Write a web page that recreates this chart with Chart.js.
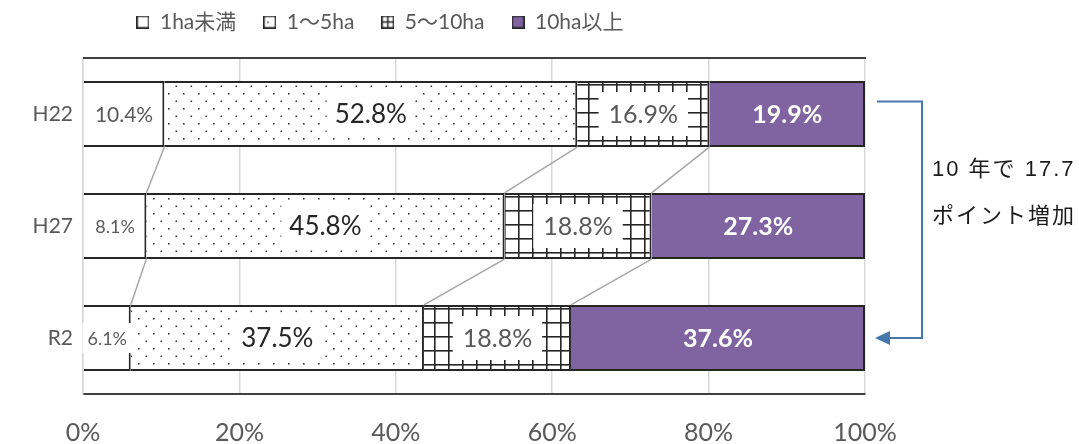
<!DOCTYPE html>
<html lang="ja">
<head>
<meta charset="UTF-8">
<title>経営耕地面積規模別の割合</title>
<script src="https://cdn.jsdelivr.net/npm/chart.js"></script>
<style>
  html, body { margin: 0; padding: 0; background: #fff; }
</style>
</head>
<body>
<canvas id="chart" width="1079" height="444"></canvas>
<script>
// data
const categories = ['H22', 'H27', 'R2'];
const seriesNames = ['1ha未満', '1～5ha', '5～10ha', '10ha以上'];
const under1ha = [10.4, 8.1, 6.1];
const ha1to5 = [52.8, 45.8, 37.5];
const ha5to10 = [16.9, 18.8, 18.8];
const over10ha = [19.9, 27.3, 37.6];
const xTickValues = [0, 20, 40, 60, 80, 100];
const noteLines = ['10 年で 17.7', 'ポイント増加'];

const FONT = 'Lato, "Noto Sans CJK JP", sans-serif';
const PURPLE = '#8064a2';
const EDGE = '#262626';

const ctx = document.getElementById('chart').getContext('2d');

function tile(w, h, draw) {
    const c = document.createElement('canvas');
    c.width = w; c.height = h;
    const g = c.getContext('2d');
    g.fillStyle = '#fff';
    g.fillRect(0, 0, w, h);
    draw(g, w, h);
    return c;
}

// fill patterns
const dotTile = tile(15, 15, g => {
    g.fillStyle = '#3a3a3a';
    g.fillRect(3, 3, 1.6, 1.6);
    g.fillRect(10.5, 10.5, 1.6, 1.6);
});
const gridTile = tile(14, 14, g => {
    g.fillStyle = EDGE;
    g.fillRect(0, 0, 1.6, 14);
    g.fillRect(0, 0, 14, 1.6);
});

// legend icons
function icon(fill, extra) {
    return tile(13, 13, (g, w, h) => {
        g.fillStyle = fill;
        g.fillRect(0, 0, w, h);
        g.strokeStyle = EDGE;
        g.lineWidth = 1.5;
        g.strokeRect(0.75, 0.75, w - 1.5, h - 1.5);
        if (extra) extra(g, w, h);
    });
}
const legendIcons = [
    icon('#fff'),
    icon('#fff', g => { g.fillStyle = EDGE; g.fillRect(4, 6, 1.5, 1.5); }),
    icon('#fff', (g, w, h) => {
        g.fillStyle = EDGE;
        g.fillRect(w / 2 - 0.75, 0, 1.5, h);
        g.fillRect(0, h / 2 - 0.75, w, 1.5);
    }),
    icon(PURPLE)
];

const fills = ['#ffffff', ctx.createPattern(dotTile, 'repeat'), ctx.createPattern(gridTile, 'repeat'), PURPLE];
const values = [under1ha, ha1to5, ha5to10, over10ha];

// how each series labels its bars
const labelStyles = [
    { size: [21, 18, 18], weight: 'normal', color: '#595959', padX: 5, boxH: 30 },
    { size: 26, weight: 'normal', color: '#262626', padX: 8, boxH: 44 },
    { size: 25, weight: 'normal', color: '#595959', padX: 10, boxH: 44 },
    { size: 25, weight: 'bold', color: '#ffffff', padX: 0, boxH: 0 }
];

const connectors = {
    id: 'connectors',
    afterDatasetsDraw(chart) {
        const c = chart.ctx;
        c.save();
        c.strokeStyle = '#a6a6a6';
        c.lineWidth = 1.5;
        for (let di = 0; di < chart.data.datasets.length - 1; di++) {
            const bars = chart.getDatasetMeta(di).data;
            for (let i = 0; i < bars.length - 1; i++) {
                const a = bars[i], b = bars[i + 1];
                c.beginPath();
                c.moveTo(a.x, a.y + a.height / 2);
                c.lineTo(b.x, b.y - b.height / 2);
                c.stroke();
            }
        }
        // top edge of the plot area
        const area = chart.chartArea;
        c.strokeStyle = '#404040';
        c.lineWidth = 2;
        c.beginPath();
        c.moveTo(area.left, area.top);
        c.lineTo(area.right + 1, area.top);
        c.stroke();
        c.restore();
    }
};

const barLabels = {
    id: 'barLabels',
    afterDatasetsDraw(chart) {
        const c = chart.ctx;
        chart.data.datasets.forEach((ds, di) => {
            const st = labelStyles[di];
            chart.getDatasetMeta(di).data.forEach((bar, i) => {
                const size = Array.isArray(st.size) ? st.size[i] : st.size;
                const text = ds.data[i].toFixed(1) + '%';
                const cx = (bar.x + bar.base) / 2;
                c.save();
                c.font = `${st.weight} ${size}px ${FONT}`;
                const w = c.measureText(text).width;
                if (st.boxH) {
                    c.fillStyle = '#fff';
                    c.fillRect(cx - w / 2 - st.padX, bar.y - st.boxH / 2, w + st.padX * 2, st.boxH);
                }
                c.fillStyle = st.color;
                c.textAlign = 'center';
                c.textBaseline = 'middle';
                c.fillText(text, cx, bar.y + 1);
                c.restore();
            });
        });
    }
};

const note = {
    id: 'note',
    afterDraw(chart) {
        const c = chart.ctx, area = chart.chartArea;
        const first = chart.getDatasetMeta(3).data[0];
        const last = chart.getDatasetMeta(3).data[2];
        const x0 = area.right + 12, xb = area.right + 57, tip = area.right + 10;
        const y0 = first.y - first.height * 0.19, y1 = last.y;
        c.save();
        c.strokeStyle = c.fillStyle = '#4677ab';
        c.lineWidth = 2;
        c.beginPath();
        c.moveTo(x0, y0);
        c.lineTo(xb, y0);
        c.lineTo(xb, y1);
        c.lineTo(tip + 12, y1);
        c.stroke();
        c.beginPath();
        c.moveTo(tip, y1);
        c.lineTo(tip + 15, y1 - 7);
        c.lineTo(tip + 15, y1 + 7);
        c.closePath();
        c.fill();
        c.fillStyle = '#1a1a1a';
        c.font = '22px "Liberation Sans", "Noto Sans CJK JP", sans-serif';
        c.letterSpacing = '2px';
        c.textBaseline = 'middle';
        c.fillText(noteLines[0], xb + 10, area.top + 112);
        c.fillText(noteLines[1], xb + 10, area.top + 159);
        c.restore();
    }
};

// the legend sits left of centre in the original, above the bars
const legendPlace = {
    id: 'legendPlace',
    afterLayout(chart) {
        const lg = chart.legend;
        const pad = lg.options.labels.padding;
        const fs = lg.options.labels.font.size;
        const dx = 380 - (lg.left + lg.right) / 2;
        const dy = 22 - (lg.top + pad + fs / 2);
        lg.left += dx; lg.right += dx;
        lg.top += dy; lg.bottom += dy;
    }
};

const chart = new Chart(ctx, {
    type: 'bar',
    data: {
        labels: categories,
        datasets: seriesNames.map((name, i) => ({
            label: name,
            data: values[i],
            backgroundColor: fills[i],
            borderColor: EDGE,
            borderWidth: i === 0 ? { top: 2, bottom: 2, right: 2, left: 0 } : 2,
            borderSkipped: 'start',
            barPercentage: 0.59,
            categoryPercentage: 1
        }))
    },
    options: {
        indexAxis: 'y',
        responsive: false,
        animation: false,
        layout: { padding: { top: 0, right: 214, left: 0, bottom: 0 } },
        scales: {
            x: {
                stacked: true,
                min: 0,
                max: 100,
                afterBuildTicks: s => { s.ticks = xTickValues.map(v => ({ value: v })); },
                afterFit: s => { s.height = 50; },
                ticks: {
                    callback: v => v + '%',
                    color: '#595959',
                    font: { family: FONT, size: 25 },
                    padding: 24
                },
                grid: { color: '#d9d9d9', lineWidth: 1.5, drawTicks: false },
                border: { color: '#404040', width: 2 }
            },
            y: {
                stacked: true,
                afterFit: s => { s.width = 83; },
                ticks: {
                    color: '#595959',
                    font: { family: FONT, size: 21 },
                    padding: 10
                },
                grid: { display: false, drawTicks: false },
                border: { color: '#d9d9d9', width: 1.5 }
            }
        },
        plugins: {
            tooltip: { enabled: false },
            legend: {
                position: 'top',
                labels: {
                    usePointStyle: true,
                    pointStyleWidth: 13,
                    padding: 27,
                    color: '#595959',
                    font: { family: FONT, size: 21 },
                    generateLabels(chart) {
                        const items = Chart.defaults.plugins.legend.labels.generateLabels(chart);
                        items.forEach((it, i) => { it.pointStyle = legendIcons[i]; });
                        return items;
                    }
                }
            }
        }
    },
    plugins: [connectors, barLabels, note, legendPlace]
});
</script>
</body>
</html>
